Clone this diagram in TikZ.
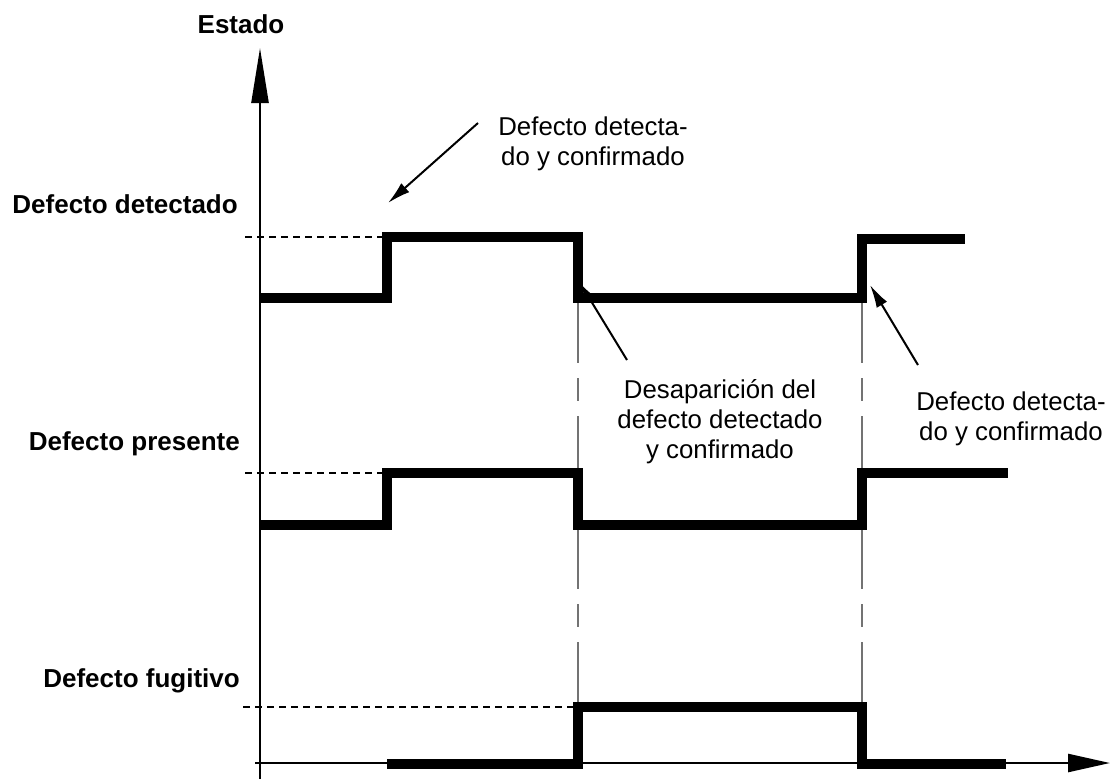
\documentclass[tikz,border=0pt]{standalone}
\usepackage{fontspec}
\setmainfont{Liberation Sans}
\usetikzlibrary{arrows.meta}
\begin{document}
\begin{tikzpicture}[x=1pt,y=-1pt,
  sig/.style={line width=10pt, line join=miter},
  guide/.style={line width=2pt, dash pattern=on 7pt off 5pt},
  vguide/.style={line width=1.3pt, draw=black!55, dash pattern=on 60pt off 15pt on 23pt off 15pt},
  lbl/.style={font=\bfseries\fontsize{26}{30}\selectfont, inner sep=0pt},
  txt/.style={font=\fontsize{25.8}{30}\selectfont, inner sep=0pt, align=center},
  ptr/.style={line width=2pt, -{Latex[length=23pt,width=12pt]}},
  axisline/.style={line width=2.5pt}
]
\useasboundingbox (0,0) rectangle (1110,779);
% guides
\draw[vguide] (578,303) -- (578,707);
\draw[vguide] (862,303) -- (862,707);
\draw[guide] (245,237) -- (382,237);
\draw[guide] (245,473) -- (382,473);
\draw[guide] (243,707) -- (573,707);
% axes
\coordinate (yb) at (260,779); \coordinate (yt) at (260,48);
\coordinate (xl) at (255,763); \coordinate (xr) at (1110,763);
\draw[axisline, -{Triangle[length=55pt,width=17pt]}] (yb) -- (yt);
\draw[axisline, -{Triangle[length=42pt,width=18pt]}] (xl) -- (xr);
% pointers (drawn under the signals)
\coordinate (a1s) at (478,123); \coordinate (a1e) at (388,203);
\coordinate (a2s) at (627,360); \coordinate (a2e) at (580,283);
\coordinate (a3s) at (918,365); \coordinate (a3e) at (870,285);
\draw[ptr] (a1s) -- (a1e);
\draw[ptr, -{Latex[length=19pt,width=11pt]}] (a2s) -- (a2e);
\draw[ptr] (a3s) -- (a3e);
% signals
\draw[sig] (260,298) -- (387,298) -- (387,237) -- (578,237) -- (578,298) -- (862,298) -- (862,239) -- (965,239);
\draw[sig] (260,525) -- (387,525) -- (387,473) -- (578,473) -- (578,525) -- (862,525) -- (862,473) -- (1008,473);
\draw[sig] (387,764) -- (578,764) -- (578,707) -- (862,707) -- (862,764) -- (1006,764);
% labels
\node[lbl, anchor=base] (estado) at (241,33) {Estado};
\node[lbl, anchor=base east] (ldet) at (238,213) {Defecto detectado};
\node[lbl, anchor=base east] (lpre) at (240,450) {Defecto presente};
\node[lbl, anchor=base east] (lfug) at (240,687) {Defecto fugitivo};
\node[txt, anchor=base] (t1) at (593,165) {Defecto detecta-\\do y confirmado};
\node[txt, anchor=base] (t2) at (720,458) {Desaparición del\\defecto detectado\\y confirmado};
\node[txt, anchor=base] (t3) at (1011,440) {Defecto detecta-\\do y confirmado};
\end{tikzpicture}
\end{document}
